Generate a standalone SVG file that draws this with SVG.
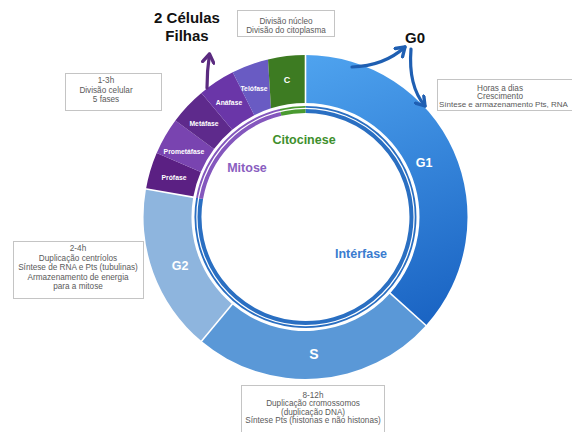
<svg xmlns="http://www.w3.org/2000/svg" width="572" height="432" viewBox="0 0 572 432">
<defs>
<linearGradient id="g1grad" gradientUnits="userSpaceOnUse" x1="320" y1="55" x2="420" y2="320">
<stop offset="0" stop-color="#4ea2ee"/>
<stop offset="1" stop-color="#1b65c4"/>
</linearGradient>
<marker id="headP" viewBox="0 0 10 10" refX="7" refY="5" markerWidth="14" markerHeight="14" markerUnits="userSpaceOnUse" orient="auto">
<path d="M1,1 L7,5 L1,9" fill="none" stroke="#5b2b80" stroke-width="2.4" stroke-linecap="round" stroke-linejoin="round"/>
</marker>
<marker id="headB" viewBox="0 0 10 10" refX="7" refY="5" markerWidth="14" markerHeight="14" markerUnits="userSpaceOnUse" orient="auto">
<path d="M1,1 L7,5 L1,9" fill="none" stroke="#1f5fb2" stroke-width="2.4" stroke-linecap="round" stroke-linejoin="round"/>
</marker>
</defs>
<style>
.box{fill:#ffffff;stroke:#c4c4c4;stroke-width:1}
.small{font-family:"Liberation Sans",Arial,sans-serif;font-size:8.2px;fill:#5a5a5a;text-anchor:middle}
.seg{font-family:"Liberation Sans",Arial,sans-serif;font-weight:bold;fill:#ffffff;text-anchor:middle}
.ph{font-size:6.8px}
.big{font-family:"Liberation Sans",Arial,sans-serif;font-weight:bold;fill:#111111;text-anchor:middle;font-size:15px}
.inner{font-family:"Liberation Sans",Arial,sans-serif;font-weight:bold;text-anchor:middle;font-size:12.5px}
.sep{stroke:#ffffff;stroke-width:1.6}
.thin{fill:none;stroke-width:7}
</style>
<rect width="572" height="432" fill="#ffffff"/>

<g id="ring-G1">
<path d="M305.5,55 A162,162 0 0 1 425.9,325.4 L390.2,293.3 A114,114 0 0 0 305.5,103 Z" fill="url(#g1grad)"/>
<text class="seg" x="424" y="166.5" font-size="12.5">G1</text>
</g>
<g id="ring-S">
<path d="M425.9,325.4 A162,162 0 0 1 201.4,341.1 L232.2,304.3 A114,114 0 0 0 390.2,293.3 Z" fill="#5a98d7"/>
<text class="seg" x="314" y="359" font-size="14">S</text>
</g>
<g id="ring-G2">
<path d="M201.4,341.1 A162,162 0 0 1 146.0,188.9 L193.2,197.2 A114,114 0 0 0 232.2,304.3 Z" fill="#8eb5de"/>
<text class="seg" x="180" y="269.5" font-size="12.5">G2</text>
</g>
<g id="ring-Profase">
<path d="M146.0,188.9 A162,162 0 0 1 156.7,152.9 L200.8,171.9 A114,114 0 0 0 193.2,197.2 Z" fill="#5b2083"/>
<text class="seg ph" x="174" y="179.5">Prófase</text>
</g>
<g id="ring-Prometafase">
<path d="M156.7,152.9 A162,162 0 0 1 175.4,120.4 L214.0,149.0 A114,114 0 0 0 200.8,171.9 Z" fill="#7944b0"/>
<text class="seg ph" x="184" y="154">Prometáfase</text>
</g>
<g id="ring-Metafase">
<path d="M175.4,120.4 A162,162 0 0 1 201.4,92.9 L232.2,129.7 A114,114 0 0 0 214.0,149.0 Z" fill="#5e2a8c"/>
<text class="seg ph" x="204" y="125.5">Metáfase</text>
</g>
<g id="ring-Anafase">
<path d="M201.4,92.9 A162,162 0 0 1 232.7,72.3 L254.3,115.2 A114,114 0 0 0 232.2,129.7 Z" fill="#6a36a8"/>
<text class="seg ph" x="229" y="104.5">Anáfase</text>
</g>
<g id="ring-Telofase">
<path d="M232.7,72.3 A162,162 0 0 1 268.0,59.4 L271,108.35 A114,114 0 0 0 254.3,115.2 Z" fill="#695bc3"/>
<text class="seg ph" x="254" y="90.5">Telófase</text>
</g>
<g id="ring-C">
<path d="M268.0,59.4 A162,162 0 0 1 305.5,55 L305.5,103 A114,114 0 0 0 271,108.35 Z" fill="#3d7b22"/>
<text class="seg" x="287" y="83" font-size="9">C</text>
</g>
<g id="separators">
<line class="sep" x1="305.5" y1="54" x2="305.5" y2="104"/>
<line class="sep" x1="426.6" y1="326" x2="389.5" y2="292.6"/>
<line class="sep" x1="200.8" y1="341.9" x2="232.8" y2="303.6"/>
<line class="sep" x1="145" y1="188.7" x2="194.2" y2="197.4"/>
</g>

<g id="inner-ring">
<path class="thin" d="M305.5,109.5 A107.5,107.5 0 1 1 199.6,198.3" stroke="#2a6fc2"/>
<path class="thin" d="M199.6,198.3 A107.5,107.5 0 0 1 280.6,112.4" stroke="#8457bd"/>
<path class="thin" d="M280.6,112.4 A107.5,107.5 0 0 1 305.5,109.5" stroke="#4a9a30"/>
<circle cx="305.5" cy="217" r="108.6" fill="none" stroke="#ffffff" stroke-width="1.2"/>
</g>

<g id="label-Citocinese"><text class="inner" x="304" y="143.5" fill="#3e8f2c">Citocinese</text></g>
<g id="label-Mitose"><text class="inner" x="247" y="171.5" fill="#8a5ec0">Mitose</text></g>
<g id="label-Interfase"><text class="inner" x="361" y="257.5" fill="#3a7ccf">Intérfase</text></g>

<g id="label-celulas">
<text class="big" x="187" y="22.5">2 Células</text>
<text class="big" x="187" y="40.5">Filhas</text>
</g>
<g id="label-G0"><text class="big" x="415" y="43" font-size="16">G0</text></g>

<g id="box-citocinese">
<rect class="box" x="237.5" y="10.5" width="97" height="26"/>
<text class="small" x="286" y="23.5">Divisão núcleo</text>
<text class="small" x="286" y="33">Divisão do citoplasma</text>
</g>
<g id="box-mitose">
<rect class="box" x="65.5" y="73.5" width="96" height="37"/>
<text class="small" x="106" y="83">1-3h</text>
<text class="small" x="106" y="92.5">Divisão celular</text>
<text class="small" x="106" y="102">5 fases</text>
</g>
<g id="box-G1">
<rect class="box" x="437.5" y="79.5" width="150" height="31"/>
<text class="small" x="500" y="90.5">Horas a dias</text>
<text class="small" x="500" y="98.5">Crescimento</text>
<text class="small" x="439" y="106.5" style="text-anchor:start;font-size:8px">Síntese e armazenamento Pts, RNA</text>
</g>
<g id="box-G2">
<rect class="box" x="13.5" y="241.5" width="130" height="57"/>
<text class="small" x="78" y="250.5">2-4h</text>
<text class="small" x="78" y="260.5">Duplicação centríolos</text>
<text class="small" x="78" y="270">Síntese de RNA e Pts (tubulinas)</text>
<text class="small" x="78" y="279.5">Armazenamento de energia</text>
<text class="small" x="78" y="289">para a mitose</text>
</g>
<g id="box-S">
<rect class="box" x="241.5" y="385.5" width="143" height="50"/>
<text class="small" x="313" y="397.5">8-12h</text>
<text class="small" x="313" y="406">Duplicação cromossomos</text>
<text class="small" x="313" y="414.5">(duplicação DNA)</text>
<text class="small" x="313" y="423">Síntese Pts (histonas e não histonas)</text>
</g>

<g id="connectors" fill="none" stroke-width="3.2" stroke-linecap="round">
<path d="M207,88 C207,74 208,64 209.5,54" stroke="#5b2b80" marker-end="url(#headP)"/>
<path d="M352,67 Q384,66 405,47" stroke="#1f5fb2" marker-end="url(#headB)"/>
<path d="M411,49 Q408,86 425,106" stroke="#1f5fb2" marker-end="url(#headB)"/>
</g>
</svg>
